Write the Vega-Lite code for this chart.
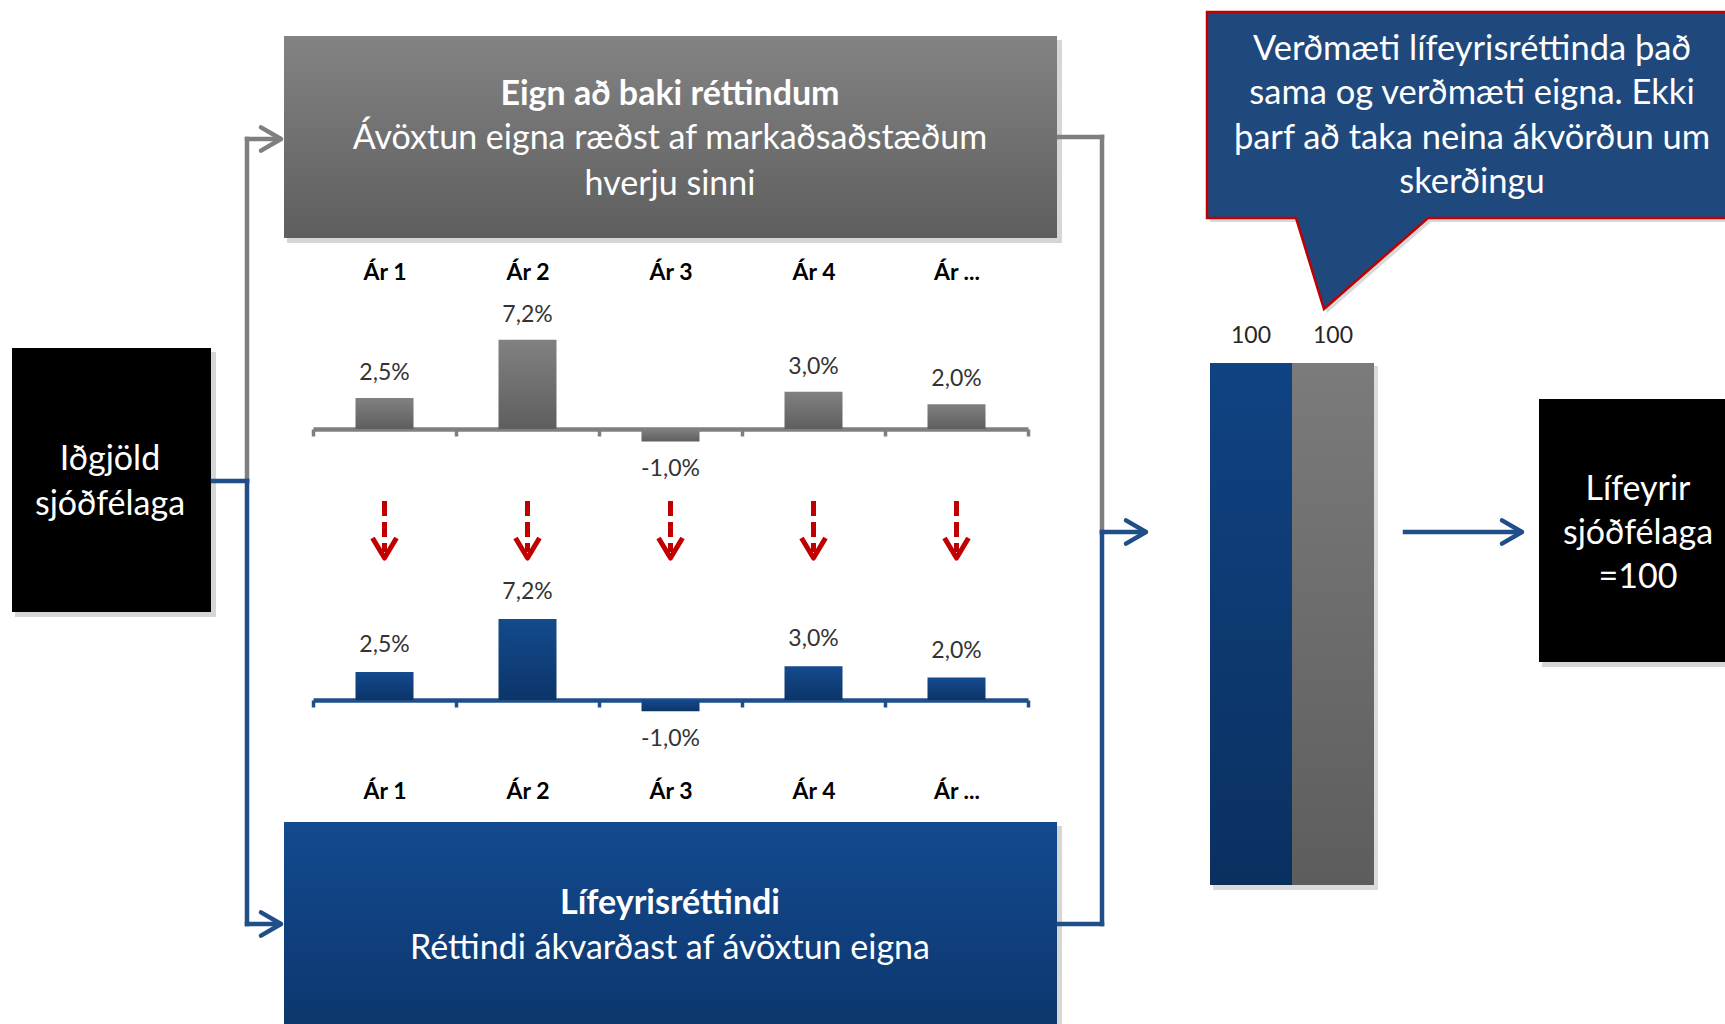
{
  "$schema": "https://vega.github.io/schema/vega-lite/v6.json",
  "width": 1725,
  "height": 1024,
  "autosize": {"type": "none"},
  "padding": 0,
  "background": "white",
  "config": {
    "font": "Lato",
    "view": {"stroke": null},
    "axisQuantitative": {"disable": true},
    "locale": {"number": {"decimal": ",", "thousands": ".", "grouping": [3], "currency": ["", " kr."], "minus": "-"}}
  },
  "datasets": {
    "returns": [
      {"series": "Eign", "year": "Ár 1", "return": 0.025},
      {"series": "Eign", "year": "Ár 2", "return": 0.072},
      {"series": "Eign", "year": "Ár 3", "return": -0.01},
      {"series": "Eign", "year": "Ár 4", "return": 0.03},
      {"series": "Eign", "year": "Ár ...", "return": 0.02},
      {"series": "Réttindi", "year": "Ár 1", "return": 0.025},
      {"series": "Réttindi", "year": "Ár 2", "return": 0.072},
      {"series": "Réttindi", "year": "Ár 3", "return": -0.01},
      {"series": "Réttindi", "year": "Ár 4", "return": 0.03},
      {"series": "Réttindi", "year": "Ár ...", "return": 0.02}
    ],
    "totals": [
      {"item": "Lífeyrisréttindi", "value": 100},
      {"item": "Eignir", "value": 100}
    ]
  },
  "resolve": {"scale": {"x": "independent", "y": "independent"}},
  "layer": [
    {
      "data": {"values": [{}]},
      "layer": [
        {"mark": {"type": "rect", "color": "#000000", "opacity": 0.16},
         "encoding": {"x": {"datum": 15, "type": "quantitative", "scale": {"domain": [0, 1725], "nice": false}},
                      "x2": {"datum": 216},
                      "y": {"datum": 352, "type": "quantitative", "scale": {"domain": [0, 1024], "reverse": true, "nice": false}},
                      "y2": {"datum": 617}}},
        {"mark": {"type": "rect", "color": "#000000", "opacity": 0.16},
         "encoding": {"x": {"datum": 287}, "x2": {"datum": 1062}, "y": {"datum": 40}, "y2": {"datum": 243}}},
        {"mark": {"type": "rect", "color": "#000000", "opacity": 0.16},
         "encoding": {"x": {"datum": 287}, "x2": {"datum": 1062}, "y": {"datum": 826}, "y2": {"datum": 1024}}},
        {"mark": {"type": "rect", "color": "#000000", "opacity": 0.16},
         "encoding": {"x": {"datum": 1542}, "x2": {"datum": 1725}, "y": {"datum": 403}, "y2": {"datum": 667}}},
        {"mark": {"type": "rect", "color": "#000000", "opacity": 0.14},
         "encoding": {"x": {"datum": 1213}, "x2": {"datum": 1378}, "y": {"datum": 366}, "y2": {"datum": 890}}},
        {"mark": {"type": "point", "shape": "M0,0L540,0L540,206L221,206L117,297L89,206L0,206Z", "size": 4, "filled": true, "fill": "#000000", "opacity": 0.15, "strokeWidth": 0},
         "encoding": {"x": {"datum": 1210}, "y": {"datum": 16}}},
        {"mark": {"type": "rect", "color": "#000000"},
         "encoding": {"x": {"datum": 12}, "x2": {"datum": 211}, "y": {"datum": 348}, "y2": {"datum": 612}}},
        {"mark": {"type": "rect", "color": {"gradient": "linear", "x1": 0, "y1": 0, "x2": 0, "y2": 1, "stops": [{"offset": 0, "color": "#838383"}, {"offset": 1, "color": "#5E5E5E"}]}},
         "encoding": {"x": {"datum": 284}, "x2": {"datum": 1057}, "y": {"datum": 36}, "y2": {"datum": 238}}},
        {"mark": {"type": "rect", "color": {"gradient": "linear", "x1": 0, "y1": 0, "x2": 0, "y2": 1, "stops": [{"offset": 0, "color": "#144A8F"}, {"offset": 1, "color": "#0C376E"}]}},
         "encoding": {"x": {"datum": 284}, "x2": {"datum": 1057}, "y": {"datum": 822}, "y2": {"datum": 1024}}},
        {"mark": {"type": "rect", "color": "#000000"},
         "encoding": {"x": {"datum": 1539}, "x2": {"datum": 1725}, "y": {"datum": 399}, "y2": {"datum": 662}}},
        {"mark": {"type": "point", "shape": "M0,0L540,0L540,206L221,206L117,297L89,206L0,206Z", "size": 4, "filled": true, "fill": "#1F497D", "stroke": "#C00000", "strokeWidth": 2.5, "opacity": 1},
         "encoding": {"x": {"datum": 1207}, "y": {"datum": 12}}},
        {"mark": {"type": "rule", "color": "#7F7F7F", "strokeWidth": 4.5, "strokeCap": "square"},
         "encoding": {"x": {"datum": 247}, "x2": {"datum": 279}, "y": {"datum": 139}, "y2": {"datum": 139}}},
        {"mark": {"type": "rule", "color": "#7F7F7F", "strokeWidth": 4.5, "strokeCap": "square"},
         "encoding": {"x": {"datum": 247}, "x2": {"datum": 247}, "y": {"datum": 139}, "y2": {"datum": 481}}},
        {"mark": {"type": "rule", "color": "#7F7F7F", "strokeWidth": 4.5, "strokeCap": "square"},
         "encoding": {"x": {"datum": 1059}, "x2": {"datum": 1102}, "y": {"datum": 137}, "y2": {"datum": 137}}},
        {"mark": {"type": "rule", "color": "#7F7F7F", "strokeWidth": 4.5, "strokeCap": "square"},
         "encoding": {"x": {"datum": 1102}, "x2": {"datum": 1102}, "y": {"datum": 137}, "y2": {"datum": 532}}},
        {"mark": {"type": "rule", "color": "#1F4E89", "strokeWidth": 4.5, "strokeCap": "square"},
         "encoding": {"x": {"datum": 213}, "x2": {"datum": 247}, "y": {"datum": 481}, "y2": {"datum": 481}}},
        {"mark": {"type": "rule", "color": "#1F4E89", "strokeWidth": 4.5, "strokeCap": "square"},
         "encoding": {"x": {"datum": 247}, "x2": {"datum": 247}, "y": {"datum": 481}, "y2": {"datum": 924}}},
        {"mark": {"type": "rule", "color": "#1F4E89", "strokeWidth": 4.5, "strokeCap": "square"},
         "encoding": {"x": {"datum": 247}, "x2": {"datum": 279}, "y": {"datum": 924}, "y2": {"datum": 924}}},
        {"mark": {"type": "rule", "color": "#1F4E89", "strokeWidth": 4.5, "strokeCap": "square"},
         "encoding": {"x": {"datum": 1059}, "x2": {"datum": 1102}, "y": {"datum": 924}, "y2": {"datum": 924}}},
        {"mark": {"type": "rule", "color": "#1F4E89", "strokeWidth": 4.5, "strokeCap": "square"},
         "encoding": {"x": {"datum": 1102}, "x2": {"datum": 1102}, "y": {"datum": 532}, "y2": {"datum": 924}}},
        {"mark": {"type": "rule", "color": "#1F4E89", "strokeWidth": 4.5, "strokeCap": "square"},
         "encoding": {"x": {"datum": 1102}, "x2": {"datum": 1144}, "y": {"datum": 532}, "y2": {"datum": 532}}},
        {"mark": {"type": "rule", "color": "#1F4E89", "strokeWidth": 4.5, "strokeCap": "square"},
         "encoding": {"x": {"datum": 1405}, "x2": {"datum": 1520}, "y": {"datum": 532}, "y2": {"datum": 532}}},
        {"mark": {"type": "point", "shape": "M-1,-0.58L0,0L-1,0.58", "size": 1600, "filled": false, "opacity": 1, "color": "#7F7F7F", "strokeWidth": 4.5, "strokeJoin": "round", "strokeCap": "round"},
         "encoding": {"x": {"datum": 281}, "y": {"datum": 139}}},
        {"mark": {"type": "point", "shape": "M-1,-0.58L0,0L-1,0.58", "size": 1600, "filled": false, "opacity": 1, "color": "#1F4E89", "strokeWidth": 4.5, "strokeJoin": "round", "strokeCap": "round"},
         "encoding": {"x": {"datum": 281}, "y": {"datum": 924}}},
        {"mark": {"type": "point", "shape": "M-1,-0.58L0,0L-1,0.58", "size": 1600, "filled": false, "opacity": 1, "color": "#1F4E89", "strokeWidth": 4.5, "strokeJoin": "round", "strokeCap": "round"},
         "encoding": {"x": {"datum": 1146}, "y": {"datum": 532}}},
        {"mark": {"type": "point", "shape": "M-1,-0.58L0,0L-1,0.58", "size": 1600, "filled": false, "opacity": 1, "color": "#1F4E89", "strokeWidth": 4.5, "strokeJoin": "round", "strokeCap": "round"},
         "encoding": {"x": {"datum": 1522}, "y": {"datum": 532}}},
        {"data": {"values": [{"label": "Iðgjöld\nsjóðfélaga"}]},
         "mark": {"type": "text", "font": "Lato", "fontSize": 34, "color": "#FFFFFF", "align": "center", "baseline": "alphabetic", "lineBreak": "\n", "lineHeight": 45},
         "encoding": {"text": {"field": "label"}, "x": {"datum": 110}, "y": {"datum": 470}}},
        {"data": {"values": [{"label": "Eign að baki réttindum"}]},
         "mark": {"type": "text", "font": "Lato", "fontSize": 34, "fontWeight": "bold", "color": "#FFFFFF", "align": "center", "baseline": "alphabetic"},
         "encoding": {"text": {"field": "label"}, "x": {"datum": 670}, "y": {"datum": 105}}},
        {"data": {"values": [{"label": "Ávöxtun eigna ræðst af markaðsaðstæðum\nhverju sinni"}]},
         "mark": {"type": "text", "font": "Lato", "fontSize": 34, "color": "#FFFFFF", "align": "center", "baseline": "alphabetic", "lineBreak": "\n", "lineHeight": 46},
         "encoding": {"text": {"field": "label"}, "x": {"datum": 670}, "y": {"datum": 149}}},
        {"data": {"values": [{"label": "Lífeyrisréttindi"}]},
         "mark": {"type": "text", "font": "Lato", "fontSize": 34, "fontWeight": "bold", "color": "#FFFFFF", "align": "center", "baseline": "alphabetic"},
         "encoding": {"text": {"field": "label"}, "x": {"datum": 670}, "y": {"datum": 914}}},
        {"data": {"values": [{"label": "Réttindi ákvarðast af ávöxtun eigna"}]},
         "mark": {"type": "text", "font": "Lato", "fontSize": 34, "color": "#FFFFFF", "align": "center", "baseline": "alphabetic"},
         "encoding": {"text": {"field": "label"}, "x": {"datum": 670}, "y": {"datum": 959}}},
        {"data": {"values": [{"label": "Verðmæti lífeyrisréttinda það\nsama og verðmæti eigna. Ekki\nþarf að taka neina ákvörðun um\nskerðingu"}]},
         "mark": {"type": "text", "font": "Lato", "fontSize": 34.5, "color": "#FFFFFF", "align": "center", "baseline": "alphabetic", "lineBreak": "\n", "lineHeight": 44.3},
         "encoding": {"text": {"field": "label"}, "x": {"datum": 1472}, "y": {"datum": 60}}},
        {"data": {"values": [{"label": "Lífeyrir\nsjóðfélaga\n=100"}]},
         "mark": {"type": "text", "font": "Lato", "fontSize": 34, "color": "#FFFFFF", "align": "center", "baseline": "alphabetic", "lineBreak": "\n", "lineHeight": 44},
         "encoding": {"text": {"field": "label"}, "x": {"datum": 1638}, "y": {"datum": 500}}}
      ]
    },
    {
      "data": {"name": "returns"},
      "resolve": {"scale": {"y": "independent"}, "axis": {"x": "independent"}},
      "layer": [
        {
          "transform": [{"filter": "datum.series === 'Eign'"}],
          "encoding": {
            "x": {"field": "year", "type": "nominal", "sort": null,
                  "scale": {"domain": ["Ár 1", "Ár 2", "Ár 3", "Ár 4", "Ár ..."], "range": [313, 1028], "paddingInner": 0, "paddingOuter": 0},
                  "axis": {"orient": "bottom", "offset": -595, "title": null, "grid": false,
                           "domainColor": "#7F7F7F", "domainWidth": 4.5, "domainCap": "butt",
                           "ticks": true, "tickColor": "#7F7F7F", "tickWidth": 3.5, "tickSize": 7, "tickBand": "extent",
                           "labelPadding": -157, "labelBaseline": "alphabetic", "labelFont": "Lato", "labelFontWeight": "bold",
                           "labelFontSize": 23, "labelColor": "#000000", "labelAngle": 0, "labelOverlap": false, "labelFlush": false}},
            "y": {"field": "return", "type": "quantitative",
                  "scale": {"domain": [0, 0.1], "range": [429, 305], "nice": false, "zero": false}, "axis": null}
          },
          "layer": [
            {"mark": {"type": "bar", "size": 58, "color": {"gradient": "linear", "x1": 0, "y1": 0, "x2": 0, "y2": 1, "stops": [{"offset": 0, "color": "#818181"}, {"offset": 1, "color": "#5E5E5E"}]}}},
            {"transform": [{"filter": "datum.return >= 0"}],
             "mark": {"type": "text", "dy": -25, "fontSize": 23, "color": "#333333", "baseline": "middle", "font": "Lato"},
             "encoding": {"text": {"field": "return", "type": "quantitative", "format": ".1%"}}},
            {"transform": [{"filter": "datum.return < 0"}],
             "mark": {"type": "text", "dy": 28, "fontSize": 23, "color": "#333333", "baseline": "middle", "font": "Lato"},
             "encoding": {"text": {"field": "return", "type": "quantitative", "format": ".1%"}}}
          ]
        },
        {
          "transform": [{"filter": "datum.series === 'Réttindi'"}],
          "encoding": {
            "x": {"field": "year", "type": "nominal", "sort": null,
                  "scale": {"domain": ["Ár 1", "Ár 2", "Ár 3", "Ár 4", "Ár ..."], "range": [313, 1028], "paddingInner": 0, "paddingOuter": 0},
                  "axis": {"orient": "bottom", "offset": -324, "title": null, "grid": false,
                           "domainColor": "#1F4E89", "domainWidth": 4.5, "domainCap": "butt",
                           "ticks": true, "tickColor": "#1F4E89", "tickWidth": 3.5, "tickSize": 7, "tickBand": "extent",
                           "labelPadding": 91, "labelBaseline": "alphabetic", "labelFont": "Lato", "labelFontWeight": "bold",
                           "labelFontSize": 23, "labelColor": "#000000", "labelAngle": 0, "labelOverlap": false, "labelFlush": false}},
            "y": {"field": "return", "type": "quantitative",
                  "scale": {"domain": [0, 0.1], "range": [700, 587.5], "nice": false, "zero": false}, "axis": null}
          },
          "layer": [
            {"mark": {"type": "bar", "size": 58, "color": {"gradient": "linear", "x1": 0, "y1": 0, "x2": 0, "y2": 1, "stops": [{"offset": 0, "color": "#144A8E"}, {"offset": 1, "color": "#0C3568"}]}}},
            {"transform": [{"filter": "datum.return >= 0"}],
             "mark": {"type": "text", "dy": -27, "fontSize": 23, "color": "#333333", "baseline": "middle", "font": "Lato"},
             "encoding": {"text": {"field": "return", "type": "quantitative", "format": ".1%"}}},
            {"transform": [{"filter": "datum.return < 0"}],
             "mark": {"type": "text", "dy": 28, "fontSize": 23, "color": "#333333", "baseline": "middle", "font": "Lato"},
             "encoding": {"text": {"field": "return", "type": "quantitative", "format": ".1%"}}}
          ]
        },
        {
          "transform": [{"filter": "datum.series === 'Eign'"}],
          "layer": [
            {"mark": {"type": "rule", "color": "#C00000", "strokeWidth": 5, "strokeDash": [15, 6]},
             "encoding": {
               "x": {"field": "year", "type": "nominal", "sort": null,
                     "scale": {"domain": ["Ár 1", "Ár 2", "Ár 3", "Ár 4", "Ár ..."], "range": [313, 1028], "paddingInner": 0, "paddingOuter": 0}, "axis": null},
               "y": {"datum": 501, "type": "quantitative", "scale": {"domain": [0, 1024], "reverse": true, "nice": false}},
               "y2": {"datum": 552}}},
            {"mark": {"type": "point", "shape": "M-0.6,-1L0,0L0.6,-1", "size": 1600, "filled": false, "opacity": 1, "color": "#C00000", "strokeWidth": 5, "strokeJoin": "round", "strokeCap": "butt"},
             "encoding": {
               "x": {"field": "year", "type": "nominal", "sort": null,
                     "scale": {"domain": ["Ár 1", "Ár 2", "Ár 3", "Ár 4", "Ár ..."], "range": [313, 1028], "paddingInner": 0, "paddingOuter": 0}, "axis": null},
               "y": {"datum": 558, "type": "quantitative"}}}
          ]
        }
      ]
    },
    {
      "data": {"name": "totals"},
      "encoding": {
        "x": {"field": "item", "type": "nominal", "sort": null,
              "scale": {"domain": ["Lífeyrisréttindi", "Eignir"], "range": [1210, 1374], "paddingInner": 0, "paddingOuter": 0}, "axis": null},
        "y": {"field": "value", "type": "quantitative", "scale": {"domain": [0, 100], "range": [885, 363], "nice": false}, "axis": null}
      },
      "layer": [
        {"transform": [{"filter": "datum.item === 'Lífeyrisréttindi'"}],
         "mark": {"type": "bar", "color": {"gradient": "linear", "x1": 0, "y1": 0, "x2": 0, "y2": 1, "stops": [{"offset": 0, "color": "#104383"}, {"offset": 1, "color": "#0A3060"}]}}},
        {"transform": [{"filter": "datum.item === 'Eignir'"}],
         "mark": {"type": "bar", "color": {"gradient": "linear", "x1": 0, "y1": 0, "x2": 0, "y2": 1, "stops": [{"offset": 0, "color": "#7B7B7B"}, {"offset": 1, "color": "#5D5D5D"}]}}},
        {"mark": {"type": "text", "dy": -27, "fontSize": 23, "color": "#262626", "baseline": "middle", "font": "Lato"},
         "encoding": {"text": {"field": "value", "type": "quantitative"}}}
      ]
    }
  ]
}
